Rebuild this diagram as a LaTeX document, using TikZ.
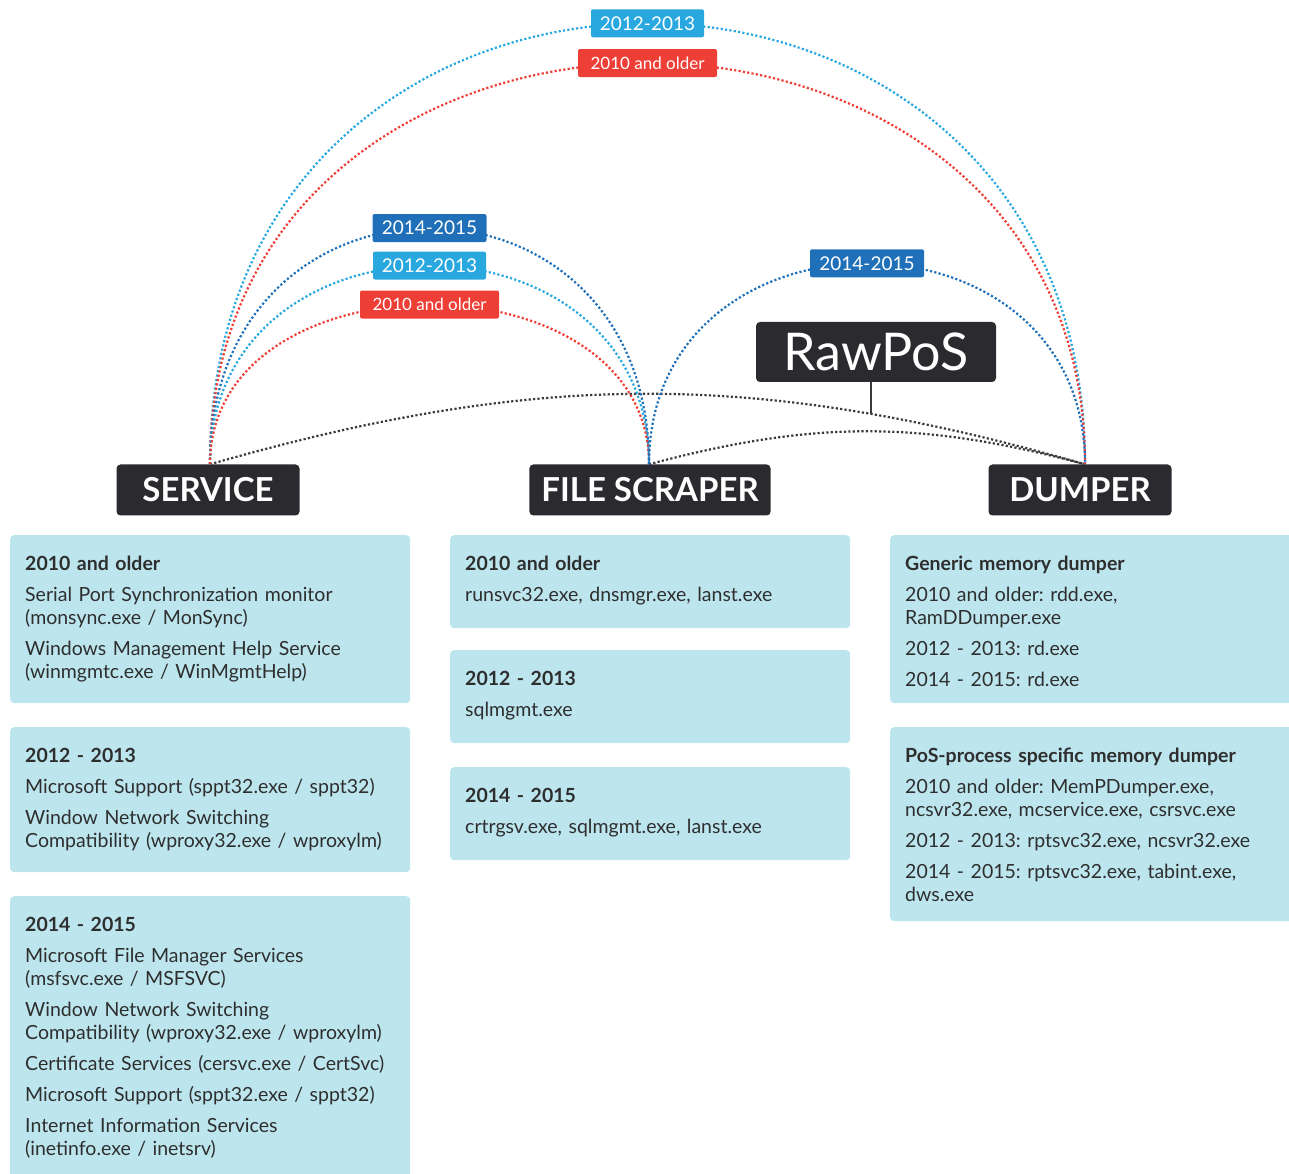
\documentclass[tikz,border=0pt]{standalone}
\usepackage{fontspec}
\setmainfont{Lato}
\frenchspacing
\definecolor{nodegrey}{HTML}{2B2A2F}
\definecolor{boxcyan}{HTML}{BCE5EE}
\definecolor{textgrey}{HTML}{2E2E2E}
\definecolor{skyblue}{HTML}{29A8E0}
\definecolor{deepblue}{HTML}{1F70B8}
\definecolor{oldred}{HTML}{EE3F37}
\definecolor{trailgrey}{HTML}{3A3A3A}

\begin{document}
\begin{tikzpicture}[x=1pt,y=1pt,
	module/.style={fill=nodegrey, text=white, rounded corners=4, minimum width=183, minimum height=51, inner xsep=12, font=\fontsize{33}{33}\selectfont\bfseries},
	infobox/.style={fill=boxcyan, rounded corners=4, anchor=north west, minimum width=400, inner sep=0},
	infotext/.style={anchor=north west, inner sep=0, text width=380, align=left, text=textgrey, font=\fontsize{19.5}{23}\selectfont},
	trail/.style={line width=2.2pt, dash pattern=on 2.2pt off 2.2pt},
	yeartag/.style={text=white, rounded corners=2, inner sep=0, minimum height=28, font=\fontsize{19}{19}\selectfont},
	tag1213/.style={yeartag, fill=skyblue, minimum width=113},
	tag1415/.style={yeartag, fill=deepblue, minimum width=114},
	tag2010/.style={yeartag, fill=oldred, minimum width=139, font=\fontsize{17}{17}\selectfont},
	]
	\useasboundingbox (0,0) rectangle (1289,1174);

	% modules
	\node[module] (svc) at (208,684) {SERVICE};
	\node[module, minimum width=240] (fsc) at (650,684) {FILE SCRAPER};
	\node[module] (dmp) at (1080,684) {DUMPER};
	\node[module, minimum width=240, minimum height=60, font=\fontsize{52}{52}\selectfont] (raw) at (876,822) {RawPoS};
	\coordinate (svctop) at ([xshift=2]svc.north);
	\coordinate (fsctop) at ([xshift=-1]fsc.north);
	\coordinate (dmptop) at ([xshift=5]dmp.north);

	% RawPoS links
	\draw[trail, trailgrey] (svctop) to[bend left=16] coordinate[pos=0.767] (tap) (dmptop);
	\draw[trail, trailgrey] (fsctop) to[bend left=15] (dmptop);
	\draw[line width=2pt, trailgrey] (tap |- raw.south) -- (tap);

	% service -- dumper
	\draw[trail, skyblue] (svctop) .. controls +(0,588) and +(0,588) .. (dmptop) node[midway, tag1213] (sdnew) {2012-2013};
	\draw[trail, oldred] (svctop) .. controls +(0,535) and +(0,535) .. (dmptop) node[midway, tag2010] (sdold) {2010 and older};
	% service -- file scraper
	\draw[trail, deepblue] (svctop) .. controls +(0,315) and +(0,315) .. (fsctop) node[midway, tag1415] (sflate) {2014-2015};
	\draw[trail, skyblue] (svctop) .. controls +(0,265) and +(0,265) .. (fsctop) node[midway, tag1213] (sfnew) {2012-2013};
	\draw[trail, oldred] (svctop) .. controls +(0,213) and +(0,213) .. (fsctop) node[midway, tag2010] (sfold) {2010 and older};
	% file scraper -- dumper
	\draw[trail, deepblue] (fsctop) .. controls +(0,268) and +(0,268) .. (dmptop) node[midway, tag1415] (fdlate) {2014-2015};

	% service boxes
	\node[infobox, minimum height=168] (svcA) at (10,639) {};
	\node[infotext] (svcAtxt) at ([shift={(15,-21)}]svcA.north west) {{\bfseries 2010 and older}\\[8pt]
		Serial Port Synchronization monitor\\(monsync.exe / MonSync)\\[8pt]
		Windows Management Help Service\\(winmgmtc.exe / WinMgmtHelp)};
	\node[infobox, minimum height=145] (svcB) at (10,447) {};
	\node[infotext] (svcBtxt) at ([shift={(15,-21)}]svcB.north west) {{\bfseries 2012 - 2013}\\[8pt]
		Microsoft Support (sppt32.exe / sppt32)\\[8pt]
		Window Network Switching\\Compatibility (wproxy32.exe / wproxylm)};
	\node[infobox, minimum height=300] (svcC) at (10,278) {};
	\node[infotext] (svcCtxt) at ([shift={(15,-21)}]svcC.north west) {{\bfseries 2014 - 2015}\\[8pt]
		Microsoft File Manager Services\\(msfsvc.exe / MSFSVC)\\[8pt]
		Window Network Switching\\Compatibility (wproxy32.exe / wproxylm)\\[8pt]
		Certificate Services (cersvc.exe / CertSvc)\\[8pt]
		Microsoft Support (sppt32.exe / sppt32)\\[8pt]
		Internet Information Services\\(inetinfo.exe / inetsrv)};

	% file scraper boxes
	\node[infobox, minimum height=93] (fscA) at (450,639) {};
	\node[infotext] (fscAtxt) at ([shift={(15,-21)}]fscA.north west) {{\bfseries 2010 and older}\\[8pt]
		runsvc32.exe, dnsmgr.exe, lanst.exe};
	\node[infobox, minimum height=93] (fscB) at (450,524) {};
	\node[infotext] (fscBtxt) at ([shift={(15,-21)}]fscB.north west) {{\bfseries 2012 - 2013}\\[8pt]
		sqlmgmt.exe};
	\node[infobox, minimum height=93] (fscC) at (450,407) {};
	\node[infotext] (fscCtxt) at ([shift={(15,-21)}]fscC.north west) {{\bfseries 2014 - 2015}\\[8pt]
		crtrgsv.exe, sqlmgmt.exe, lanst.exe};

	% dumper boxes
	\node[infobox, minimum width=420, minimum height=168] (dmpA) at (890,639) {};
	\node[infotext] (dmpAtxt) at ([shift={(15,-21)}]dmpA.north west) {{\bfseries Generic memory dumper}\\[8pt]
		2010 and older: rdd.exe,\\RamDDumper.exe\\[8pt]
		2012 - 2013: rd.exe\\[8pt]
		2014 - 2015: rd.exe};
	\node[infobox, minimum width=420, minimum height=194] (dmpB) at (890,447) {};
	\node[infotext] (dmpBtxt) at ([shift={(15,-21)}]dmpB.north west) {{\bfseries PoS-process specific memory dumper}\\[8pt]
		2010 and older: MemPDumper.exe,\\ncsvr32.exe, mcservice.exe, csrsvc.exe\\[8pt]
		2012 - 2013: rptsvc32.exe, ncsvr32.exe\\[8pt]
		2014 - 2015: rptsvc32.exe, tabint.exe,\\dws.exe};
\end{tikzpicture}
\end{document}
